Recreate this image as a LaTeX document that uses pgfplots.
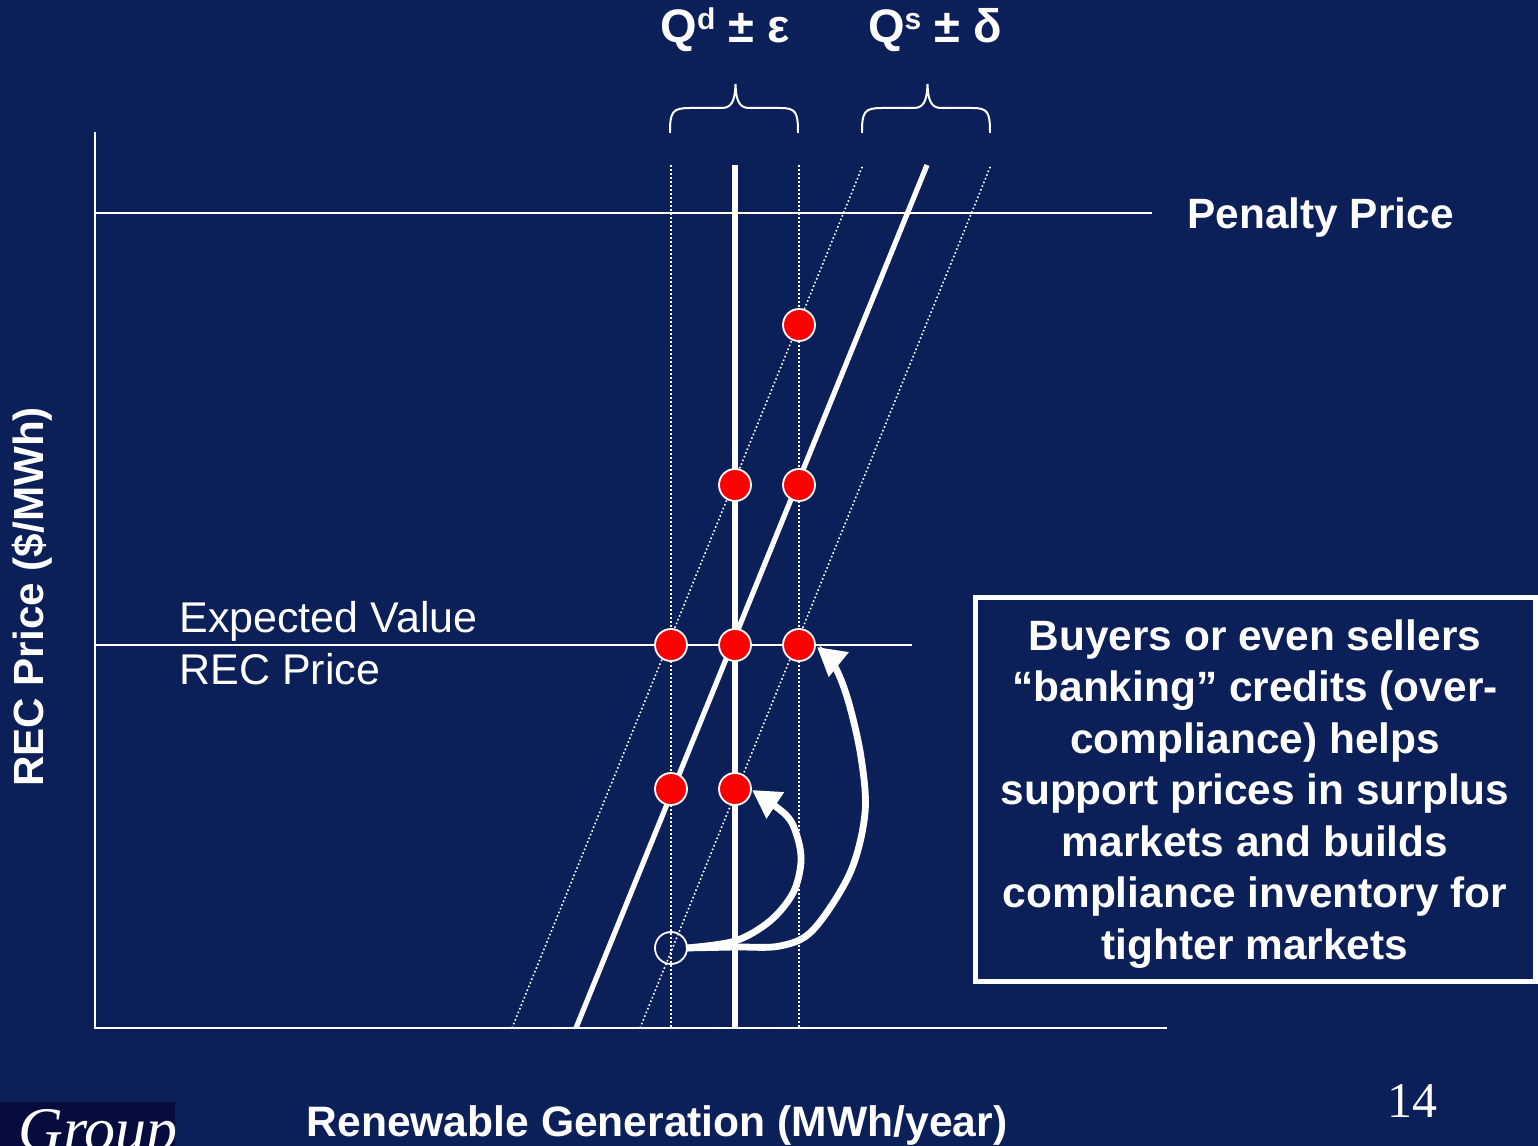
\documentclass[border=0pt]{standalone}
\usepackage{pgfplots}
\pgfplotsset{compat=1.18}
\usepackage{fontspec}
\setmainfont{Liberation Sans}
\newfontfamily\seriffont{Liberation Serif}
\usetikzlibrary{arrows.meta}
\definecolor{navy}{RGB}{11,31,89}
\definecolor{logobg}{RGB}{8,12,60}
\newcommand{\supscr}[1]{\raisebox{0.27em}{\fontsize{15bp}{15bp}\selectfont #1}}
\begin{document}
\begin{tikzpicture}
\begin{axis}[
  x=0.5bp, y=0.5bp,
  xmin=0, xmax=1538, ymin=0, ymax=1146,
  y dir=reverse,
  scale only axis,
  axis line style={draw=none},
  ticks=none,
  axis background/.style={fill=navy},
  clip=true,
]
% axes (L shape)
\addplot[white, line width=1.1bp] coordinates {(95,132) (95,1028) (1167,1028)};
% penalty price
\addplot[white, line width=1bp] coordinates {(95,213) (1152,213)};
% expected value
\addplot[white, line width=1bp] coordinates {(95,645) (912,645)};
% dotted demand band
\addplot[white, line width=0.8bp, dash pattern=on 0.8bp off 1.2bp] coordinates {(671,165) (671,1028)};
\addplot[white, line width=0.8bp, dash pattern=on 0.8bp off 1.2bp] coordinates {(799,165) (799,1028)};
% dotted supply band
\addplot[white, line width=0.8bp, dash pattern=on 0.8bp off 1.2bp] coordinates {(512,1028) (863,165)};
\addplot[white, line width=0.8bp, dash pattern=on 0.8bp off 1.2bp] coordinates {(640,1028) (991,165)};
% demand (solid)
\addplot[white, line width=2.6bp] coordinates {(735,165) (735,1028)};
% supply (solid)
\addplot[white, line width=2.6bp] coordinates {(576,1028) (927,165)};
% arrows
\addplot[white, line width=3.4bp, smooth, tension=0.55, -{Triangle[length=14bp,width=15bp]}]
  coordinates {(686,948) (735,941) (770,921) (793,893) (801,862) (797,836) (786,815) (752,790)};
\addplot[white, line width=3.4bp, smooth, tension=0.55, -{Triangle[length=14bp,width=15bp]}]
  coordinates {(686,948) (735,947) (780,946) (813,930) (850,873) (865,813) (861,757) (848,700) (834,665) (817,647)};
% red equilibrium points
\addplot[only marks, mark=*, mark size=8bp, mark options={fill=red, draw=white, line width=0.9bp}]
  coordinates {(799,325) (735,485) (799,485) (671,645) (735,645) (799,645) (671,789) (735,789)};
% open circle
\addplot[only marks, mark=o, mark size=8bp, mark options={draw=white, line width=0.9bp}]
  coordinates {(671,948)};
% braces
\draw[white, line width=1bp]
  (axis cs:670,133) .. controls (axis cs:670,112) and (axis cs:672,108) .. (axis cs:690,108)
  -- (axis cs:722,108) .. controls (axis cs:733,108) and (axis cs:735,98) .. (axis cs:735.5,84)
  .. controls (axis cs:736,98) and (axis cs:738,108) .. (axis cs:749,108)
  -- (axis cs:780,108) .. controls (axis cs:796,108) and (axis cs:798,112) .. (axis cs:798,133);
\draw[white, line width=1bp]
  (axis cs:862,133) .. controls (axis cs:862,112) and (axis cs:864,108) .. (axis cs:882,108)
  -- (axis cs:914,108) .. controls (axis cs:925,108) and (axis cs:927,98) .. (axis cs:927.5,84)
  .. controls (axis cs:928,98) and (axis cs:930,108) .. (axis cs:941,108)
  -- (axis cs:972,108) .. controls (axis cs:988,108) and (axis cs:990,112) .. (axis cs:990,133);
% texts
\node[text=white, font=\fontsize{23.5bp}{23bp}\selectfont\bfseries] at (axis cs:725,30) {Q\supscr{d} ± ε};
\node[text=white, font=\fontsize{23.5bp}{23bp}\selectfont\bfseries] at (axis cs:935,30) {Q\supscr{s} ± δ};
\node[text=white, anchor=west, inner sep=0pt, font=\fontsize{21.2bp}{21.2bp}\selectfont\bfseries] at (axis cs:1187,218) {Penalty Price};
\node[text=white, anchor=west, inner sep=0pt, align=left, font=\fontsize{21.5bp}{26bp}\selectfont] at (axis cs:179,643) {Expected Value\\REC Price};
\node[text=white, rotate=90, font=\fontsize{21.1bp}{21bp}\selectfont\bfseries] at (axis cs:32,597) {REC Price (\$/MWh)};
\node[text=white, font=\fontsize{21.3bp}{21bp}\selectfont\bfseries] at (axis cs:657,1125) {Renewable Generation (MWh/year)};
\node[text=white, font=\fontsize{25bp}{25bp}\selectfont\seriffont] at (axis cs:1412,1101) {14};
% callout box
\draw[white, line width=2.5bp] (axis cs:975,598) rectangle (axis cs:1535,981);
\node[text=white, align=center, font=\fontsize{21.2bp}{25.75bp}\selectfont\bfseries] at (axis cs:1255,794)
  {Buyers or even sellers\\“banking” credits (over-\\compliance) helps\\support prices in surplus\\markets and builds\\compliance inventory for\\tighter markets};
% logo
\fill[logobg] (axis cs:0,1102) rectangle (axis cs:175,1146);
\begin{scope}
\clip (axis cs:0,1102) rectangle (axis cs:175,1146);
\node[text=white, anchor=base west, inner sep=0pt, font=\fontsize{31bp}{31bp}\selectfont\seriffont\itshape] at (axis cs:18,1150) {Group};
\end{scope}
\end{axis}
\end{tikzpicture}
\end{document}
